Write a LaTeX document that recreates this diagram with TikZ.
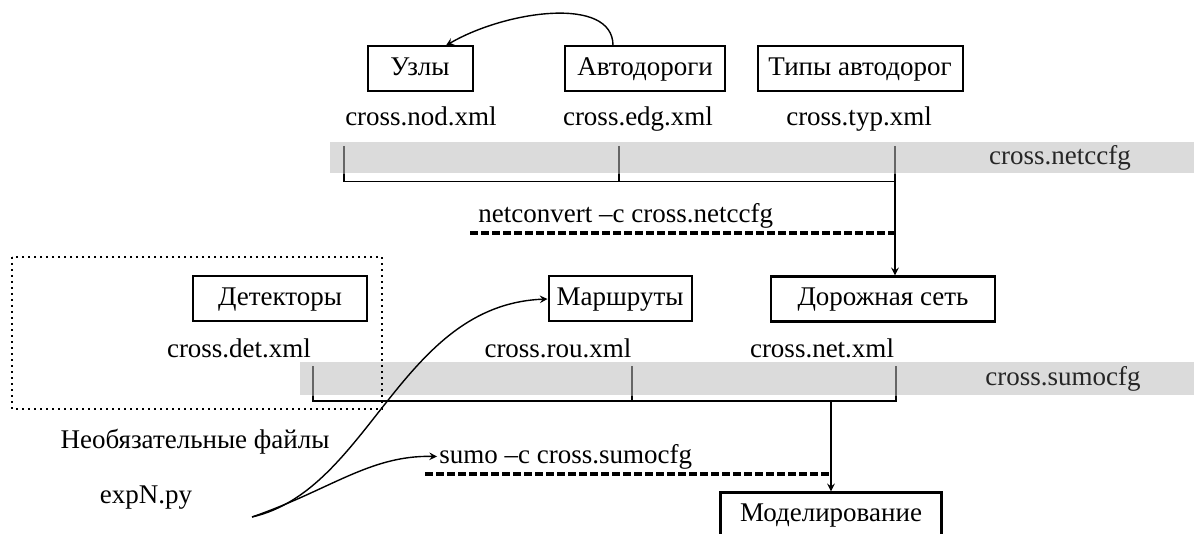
\documentclass[tikz,border=0pt]{standalone}
\usepackage{fontspec}
\setmainfont{Liberation Serif}
\usetikzlibrary{positioning,arrows}

\begin{document}
\begin{tikzpicture}[
    x=0.5pt,y=-0.5pt,
    font=\fontsize{13.5}{16}\selectfont,
    block/.style={rectangle,draw=black,line width=1pt,minimum height=22.5pt,inner sep=2pt,text height=9.5pt,text depth=3pt},
    fname/.style={inner sep=1pt,text height=9.5pt,text depth=3pt},
    band/.style={rectangle,fill=black!14,draw=none,inner sep=0pt,anchor=north west},
    tick/.style={black!60,line width=0.9pt},
    bracket/.style={black,line width=0.7pt},
    arrow/.style={->,>=stealth,line width=0.7pt},
    cmdline/.style={line width=1.6pt,dash pattern=on 4pt off 1.5pt}
]
\useasboundingbox (0,0) rectangle (1194,534);

% netconvert stage
\node[band,minimum width=432pt,minimum height=15.5pt] (netbar) at (330,142) {};
\node[fname,black!85] (netcfg) at (1060,158) {cross.netccfg};

\node[block,minimum width=52.5pt] (nodes) at (420,69) {Узлы};
\node[block,minimum width=80pt] (edges) at (645,69) {Автодороги};
\node[block,minimum width=102.5pt] (types) at (860,69) {Типы автодорог};

\node[fname] (nodfile) at (421,119) {cross.nod.xml};
\node[fname] (edgfile) at (638,119) {cross.edg.xml};
\node[fname] (typfile) at (859,119) {cross.typ.xml};

\draw[arrow] ([xshift=-16pt]edges.north) .. controls +(0,-50) and +(60,-35) .. ([xshift=13pt]nodes.north);

\coordinate (nt1) at (344,146);
\coordinate (nt2) at (619,146);
\coordinate (nt3) at (895,146);
\draw[tick] (nt1) -- (nt1 |- netbar.south);
\draw[tick] (nt2) -- (nt2 |- netbar.south);
\draw[tick] (nt3) -- (nt3 |- netbar.south);
\draw[bracket] (nt1 |- netbar.south) -- ++(0,8) -| (nt3 |- netbar.south);
\draw[bracket] (nt2 |- netbar.south) -- ++(0,8);
\coordinate (njoin) at (895,181);

\node[fname,anchor=base west] (ncmd) at (476,223) {netconvert \textendash c cross.netccfg};
\coordinate (nc1) at (470,233);
\draw[cmdline] (nc1) -- (nc1 -| njoin);

% sumo stage
\node[band,minimum width=447pt,minimum height=16.5pt] (sumobar) at (300,362) {};
\node[fname,black!85] (sumocfg) at (1063,379) {cross.sumocfg};

\draw[dotted,line width=1pt] (12,257) rectangle (382,409);
\node[fname] (optional) at (195,442) {Необязательные файлы};

\node[block,minimum width=87pt] (det) at (280,299) {Детекторы};
\node[block,minimum width=71.5pt] (rou) at (620,299) {Маршруты};
\node[block,minimum width=112pt,line width=1.2pt] (net) at (883,299) {Дорожная сеть};

\node[fname] (detfile) at (239,351) {cross.det.xml};
\node[fname] (roufile) at (558,351) {cross.rou.xml};
\node[fname] (netfile) at (822,351) {cross.net.xml};

\draw[arrow] (njoin) -- (njoin |- net.north);

\coordinate (st1) at (313,366);
\coordinate (st2) at (632,366);
\coordinate (st3) at (896,366);
\draw[tick] (st1) -- (st1 |- sumobar.south);
\draw[tick] (st2) -- (st2 |- sumobar.south);
\draw[tick] (st3) -- (st3 |- sumobar.south);
\draw[bracket] (st1 |- sumobar.south) -- ++(0,5) -| (st3 |- sumobar.south);
\draw[bracket] (st2 |- sumobar.south) -- ++(0,5);
\coordinate (sjoin) at (831,400);

\node[fname,anchor=base west] (scmd) at (437,463) {sumo \textendash c cross.sumocfg};
\coordinate (sc1) at (425,474);
\draw[cmdline] (sc1) -- (sc1 -| sjoin);

\node[block,minimum width=110.5pt,line width=1.2pt] (sim) at (831,515) {Моделирование};
\draw[arrow] (sjoin) -- (sim);

% script
\node[fname] (expn) at (146,497) {expN.py};
\coordinate (es) at (252,517);
\draw[arrow] (es) .. controls (370,490) and (400,305) .. (rou.west);
\draw[arrow] (es) .. controls (330,490) and (370,455) .. (scmd.west);

\end{tikzpicture}
\end{document}
